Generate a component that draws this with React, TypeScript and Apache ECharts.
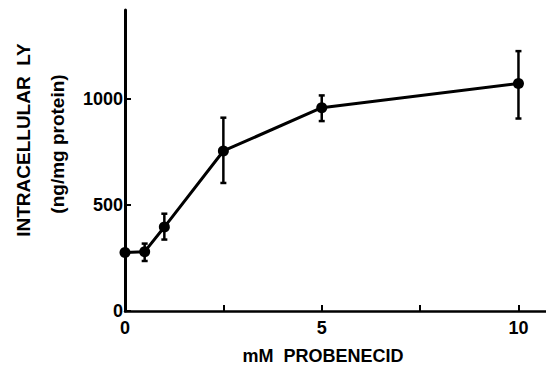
import React, { useEffect, useRef } from "react";
import * as echarts from "echarts";

const concentrations = [0, 0.5, 1, 2.5, 5, 10];
const meanLY = [276, 280, 396, 755, 959, 1073];
const errLow = [276, 236, 337, 604, 896, 908];
const errHigh = [276, 318, 459, 912, 1017, 1226];
const xTickLabels: Record<string, string> = { "0": "0", "5": "5", "10": "10" };
const yTickLabels = [0, 500, 1000];

export default function App() {
  const ref = useRef<HTMLDivElement>(null);
  useEffect(() => {
    if (!ref.current) return;
    const chart = echarts.init(ref.current, undefined, { renderer: "svg" });
    const font = "'Liberation Sans', Arial, sans-serif";
    const lineData = concentrations.map((x, i) => [x, meanLY[i]]);
    const errData = concentrations.map((x, i) => [x, errLow[i], errHigh[i]]);
    chart.setOption({
      animation: false,
      backgroundColor: "#ffffff",
      grid: { left: 125, right: 0, top: 10, bottom: 57, containLabel: false },
      xAxis: {
        type: "value",
        min: 0,
        max: 10.7,
        interval: 2.5,
        splitLine: { show: false },
        axisLine: { lineStyle: { color: "#000", width: 2.5 } },
        axisTick: { inside: true, length: 6, lineStyle: { color: "#000", width: 2 } },
        axisLabel: {
          color: "#000",
          fontFamily: font,
          fontWeight: "bold",
          fontSize: 18,
          margin: 8,
          showMaxLabel: false,
          formatter: (v: number) => xTickLabels[String(v)] ?? "",
        },
      },
      yAxis: {
        type: "value",
        min: 0,
        max: 1420,
        interval: 500,
        splitLine: { show: false },
        axisLine: { lineStyle: { color: "#000", width: 3 } },
        axisTick: { inside: true, length: 6, lineStyle: { color: "#000", width: 2 } },
        axisLabel: {
          color: "#000",
          fontFamily: font,
          fontWeight: "bold",
          fontSize: 18,
          margin: 2,
          showMaxLabel: false,
          formatter: (v: number) => (yTickLabels.includes(v) ? String(v) : ""),
        },
      },
      graphic: [
        {
          type: "text",
          x: 23,
          y: 140,
          rotation: Math.PI / 2,
          style: {
            text: "INTRACELLULAR  LY",
            fill: "#000",
            font: `bold 19px ${font}`,
            align: "center",
            verticalAlign: "middle",
          },
        },
        {
          type: "text",
          x: 57,
          y: 144,
          rotation: Math.PI / 2,
          style: {
            text: "(ng/mg protein)",
            fill: "#000",
            font: `bold 19px ${font}`,
            align: "center",
            verticalAlign: "middle",
          },
        },
        {
          type: "text",
          x: 323,
          y: 356,
          style: {
            text: "mM  PROBENECID",
            fill: "#000",
            font: `bold 18px ${font}`,
            align: "center",
            verticalAlign: "middle",
          },
        },
      ],
      series: [
        {
          type: "custom",
          data: errData,
          z: 3,
          renderItem: (params: any, api: any) => {
            const x = api.value(0);
            const lo = api.coord([x, api.value(1)]);
            const hi = api.coord([x, api.value(2)]);
            const cap = 3;
            const st = { stroke: "#000", lineWidth: 2.5 };
            return {
              type: "group",
              children: [
                { type: "line", shape: { x1: lo[0], y1: lo[1], x2: hi[0], y2: hi[1] }, style: st },
                { type: "line", shape: { x1: hi[0] - cap, y1: hi[1], x2: hi[0] + cap, y2: hi[1] }, style: st },
                { type: "line", shape: { x1: lo[0] - cap, y1: lo[1], x2: lo[0] + cap, y2: lo[1] }, style: st },
              ],
            };
          },
        },
        {
          type: "line",
          data: lineData,
          z: 4,
          symbol: "circle",
          symbolSize: 11,
          lineStyle: { color: "#000", width: 3 },
          itemStyle: { color: "#000" },
        },
      ],
    });
    return () => chart.dispose();
  }, []);
  return <div ref={ref} style={{ width: 546, height: 368, position: "absolute", left: 0, top: 0 }} />;
}
